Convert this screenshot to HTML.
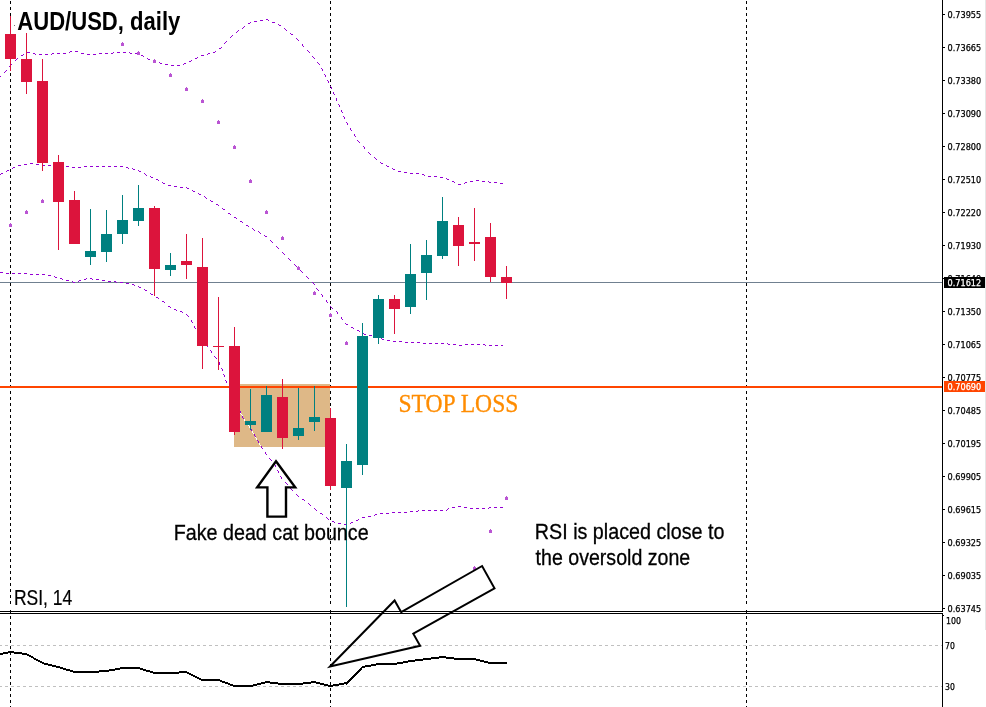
<!DOCTYPE html>
<html lang="en"><head><meta charset="utf-8"><title>AUD/USD, daily</title>
<style>html,body{margin:0;padding:0;background:#fff;overflow:hidden}svg{display:block}.n{font-family:"Liberation Sans",sans-serif}.s{font-family:"Liberation Serif",serif}.ax{font-family:"DejaVu Sans Condensed","DejaVu Sans","Liberation Sans",sans-serif;font-size:9.4px;fill:#000;stroke:#000;stroke-width:.25px}</style></head><body>
<svg width="986" height="707" viewBox="0 0 986 707">
<rect width="986" height="707" fill="#fff"/>
<g shape-rendering="crispEdges">
<rect x="985" y="0" width="1" height="630" fill="#E6E6E6"/>
<line x1="10.5" y1="1" x2="10.5" y2="604" stroke="#000" stroke-width="1" stroke-dasharray="3 3"/>
<line x1="10.5" y1="610" x2="10.5" y2="707" stroke="#000" stroke-width="1" stroke-dasharray="3 3"/>
<line x1="330.5" y1="1" x2="330.5" y2="604" stroke="#000" stroke-width="1" stroke-dasharray="3 3"/>
<line x1="330.5" y1="610" x2="330.5" y2="707" stroke="#000" stroke-width="1" stroke-dasharray="3 3"/>
<line x1="746.5" y1="1" x2="746.5" y2="604" stroke="#000" stroke-width="1" stroke-dasharray="3 3"/>
<line x1="746.5" y1="610" x2="746.5" y2="707" stroke="#000" stroke-width="1" stroke-dasharray="3 3"/>
<rect x="234" y="384" width="96" height="63" fill="#DEB887"/>
<rect x="0" y="282" width="943" height="1" fill="#708090"/>
<rect x="14" y="25" width="1" height="1" fill="#777"/>
<path fill="#fff" d="M240 411h1v1h-1zM240 412h1v1h-1zM240 413h1v1h-1zM241 414h1v1h-1zM242 415h1v1h-1zM242 416h1v1h-1zM242 417h1v1h-1zM243 418h1v1h-1zM244 419h1v1h-1zM244 420h1v1h-1zM245 421h1v1h-1zM246 422h1v1h-1zM247 423h1v1h-1zM247 424h1v1h-1zM248 425h1v1h-1zM249 426h1v1h-1zM249 427h1v1h-1zM250 428h1v1h-1zM251 429h1v1h-1zM251 430h1v1h-1zM252 431h1v1h-1zM252 432h1v1h-1zM253 433h1v1h-1zM254 434h1v1h-1zM254 435h1v1h-1zM255 436h1v1h-1zM255 437h1v1h-1zM256 438h1v1h-1zM256 439h1v1h-1zM257 440h1v1h-1zM258 441h1v1h-1zM258 442h1v1h-1zM259 443h1v1h-1zM259 444h1v1h-1zM260 445h1v1h-1zM261 446h1v1h-1z"/>
<path fill="#9400D3" d="M0 76h1v1h-1zM4 72h1v1h-1zM5 71h1v1h-1zM6 70h1v1h-1zM9 66h1v1h-1zM10 65h1v1h-1zM11 64h1v1h-1zM15 60h1v1h-1zM16 59h1v1h-1zM17 58h1v1h-1zM21 55h1v1h-1zM22 55h1v1h-1zM23 54h1v1h-1zM27 52h1v1h-1zM28 52h1v1h-1zM29 52h1v1h-1zM33 53h1v1h-1zM34 53h1v1h-1zM35 54h1v1h-1zM39 54h1v1h-1zM40 54h1v1h-1zM41 54h1v1h-1zM45 54h1v1h-1zM46 54h1v1h-1zM47 54h1v1h-1zM51 54h1v1h-1zM52 53h1v1h-1zM53 53h1v1h-1zM57 53h1v1h-1zM58 53h1v1h-1zM59 53h1v1h-1zM63 53h1v1h-1zM64 53h1v1h-1zM65 53h1v1h-1zM69 52h1v1h-1zM70 51h1v1h-1zM71 51h1v1h-1zM75 51h1v1h-1zM76 51h1v1h-1zM77 51h1v1h-1zM81 53h1v1h-1zM82 53h1v1h-1zM83 53h1v1h-1zM87 54h1v1h-1zM88 54h1v1h-1zM89 54h1v1h-1zM93 54h1v1h-1zM94 54h1v1h-1zM95 54h1v1h-1zM99 53h1v1h-1zM100 53h1v1h-1zM101 53h1v1h-1zM105 53h1v1h-1zM106 53h1v1h-1zM107 53h1v1h-1zM111 53h1v1h-1zM112 53h1v1h-1zM113 52h1v1h-1zM117 52h1v1h-1zM118 52h1v1h-1zM119 52h1v1h-1zM123 52h1v1h-1zM124 52h1v1h-1zM125 52h1v1h-1zM129 52h1v1h-1zM130 53h1v1h-1zM131 53h1v1h-1zM135 53h1v1h-1zM136 53h1v1h-1zM137 53h1v1h-1zM141 55h1v1h-1zM142 55h1v1h-1zM143 56h1v1h-1zM147 58h1v1h-1zM148 59h1v1h-1zM149 59h1v1h-1zM153 61h1v1h-1zM154 61h1v1h-1zM155 61h1v1h-1zM159 62h1v1h-1zM160 63h1v1h-1zM161 63h1v1h-1zM165 64h1v1h-1zM166 64h1v1h-1zM167 64h1v1h-1zM171 65h1v1h-1zM172 65h1v1h-1zM173 65h1v1h-1zM177 65h1v1h-1zM178 65h1v1h-1zM179 65h1v1h-1zM183 64h1v1h-1zM184 63h1v1h-1zM185 63h1v1h-1zM189 61h1v1h-1zM190 61h1v1h-1zM191 60h1v1h-1zM195 58h1v1h-1zM196 58h1v1h-1zM197 57h1v1h-1zM201 55h1v1h-1zM202 55h1v1h-1zM203 55h1v1h-1zM207 54h1v1h-1zM208 53h1v1h-1zM209 53h1v1h-1zM213 52h1v1h-1zM214 52h1v1h-1zM215 51h1v1h-1zM219 48h1v1h-1zM220 48h1v1h-1zM221 47h1v1h-1zM224 43h1v1h-1zM225 42h1v1h-1zM226 41h1v1h-1zM230 37h1v1h-1zM231 36h1v1h-1zM232 35h1v1h-1zM236 32h1v1h-1zM237 31h1v1h-1zM238 30h1v1h-1zM242 28h1v1h-1zM243 27h1v1h-1zM244 26h1v1h-1zM248 23h1v1h-1zM249 23h1v1h-1zM250 22h1v1h-1zM254 21h1v1h-1zM255 21h1v1h-1zM256 21h1v1h-1zM260 20h1v1h-1zM261 20h1v1h-1zM262 20h1v1h-1zM266 19h1v1h-1zM267 19h1v1h-1zM268 20h1v1h-1zM272 22h1v1h-1zM273 22h1v1h-1zM274 22h1v1h-1zM278 24h1v1h-1zM279 25h1v1h-1zM280 25h1v1h-1zM284 28h1v1h-1zM285 29h1v1h-1zM286 30h1v1h-1zM290 33h1v1h-1zM291 34h1v1h-1zM292 34h1v1h-1zM296 38h1v1h-1zM297 39h1v1h-1zM298 40h1v1h-1zM302 44h1v1h-1zM302 45h1v1h-1zM303 46h1v1h-1zM307 50h1v1h-1zM308 51h1v1h-1zM309 52h1v1h-1zM312 56h1v1h-1zM313 57h1v1h-1zM314 58h1v1h-1zM317 62h1v1h-1zM318 63h1v1h-1zM319 64h1v1h-1zM321 68h1v1h-1zM322 69h1v1h-1zM322 70h1v1h-1zM324 74h1v1h-1zM325 75h1v1h-1zM325 76h1v1h-1zM327 80h1v1h-1zM328 81h1v1h-1zM328 82h1v1h-1zM330 86h1v1h-1zM331 87h1v1h-1zM331 88h1v1h-1zM333 92h1v1h-1zM333 93h1v1h-1zM334 94h1v1h-1zM336 98h1v1h-1zM336 99h1v1h-1zM336 100h1v1h-1zM338 104h1v1h-1zM339 105h1v1h-1zM339 106h1v1h-1zM341 110h1v1h-1zM341 111h1v1h-1zM342 112h1v1h-1zM343 116h1v1h-1zM344 117h1v1h-1zM344 118h1v1h-1zM346 122h1v1h-1zM347 123h1v1h-1zM347 124h1v1h-1zM350 128h1v1h-1zM350 129h1v1h-1zM351 130h1v1h-1zM354 134h1v1h-1zM354 135h1v1h-1zM355 136h1v1h-1zM357 140h1v1h-1zM358 141h1v1h-1zM359 142h1v1h-1zM363 146h1v1h-1zM364 147h1v1h-1zM364 148h1v1h-1zM368 152h1v1h-1zM369 153h1v1h-1zM370 154h1v1h-1zM374 157h1v1h-1zM375 158h1v1h-1zM376 159h1v1h-1zM380 162h1v1h-1zM381 163h1v1h-1zM382 163h1v1h-1zM386 165h1v1h-1zM387 166h1v1h-1zM388 166h1v1h-1zM392 168h1v1h-1zM393 169h1v1h-1zM394 169h1v1h-1zM398 171h1v1h-1zM399 171h1v1h-1zM400 171h1v1h-1zM404 172h1v1h-1zM405 172h1v1h-1zM406 172h1v1h-1zM410 173h1v1h-1zM411 173h1v1h-1zM412 173h1v1h-1zM416 173h1v1h-1zM417 173h1v1h-1zM418 173h1v1h-1zM422 174h1v1h-1zM423 174h1v1h-1zM424 175h1v1h-1zM428 176h1v1h-1zM429 176h1v1h-1zM430 176h1v1h-1zM434 176h1v1h-1zM435 176h1v1h-1zM436 176h1v1h-1zM440 177h1v1h-1zM441 177h1v1h-1zM442 177h1v1h-1zM446 178h1v1h-1zM447 179h1v1h-1zM448 179h1v1h-1zM452 181h1v1h-1zM453 181h1v1h-1zM454 182h1v1h-1zM458 184h1v1h-1zM459 184h1v1h-1zM460 184h1v1h-1zM464 183h1v1h-1zM465 182h1v1h-1zM466 182h1v1h-1zM470 181h1v1h-1zM471 181h1v1h-1zM472 181h1v1h-1zM476 180h1v1h-1zM477 180h1v1h-1zM478 180h1v1h-1zM482 181h1v1h-1zM483 181h1v1h-1zM484 181h1v1h-1zM488 181h1v1h-1zM489 182h1v1h-1zM490 182h1v1h-1zM494 182h1v1h-1zM495 182h1v1h-1zM496 182h1v1h-1zM500 183h1v1h-1zM501 183h1v1h-1zM502 183h1v1h-1z"/>
<path fill="#9400D3" d="M0 174h1v1h-1zM1 173h1v1h-1zM2 173h1v1h-1zM6 171h1v1h-1zM7 170h1v1h-1zM8 170h1v1h-1zM12 168h1v1h-1zM13 167h1v1h-1zM14 167h1v1h-1zM18 165h1v1h-1zM19 165h1v1h-1zM20 165h1v1h-1zM24 164h1v1h-1zM25 164h1v1h-1zM26 164h1v1h-1zM30 163h1v1h-1zM31 163h1v1h-1zM32 163h1v1h-1zM36 164h1v1h-1zM37 164h1v1h-1zM38 164h1v1h-1zM42 164h1v1h-1zM43 165h1v1h-1zM44 165h1v1h-1zM48 165h1v1h-1zM49 165h1v1h-1zM50 165h1v1h-1zM54 165h1v1h-1zM55 165h1v1h-1zM56 166h1v1h-1zM60 166h1v1h-1zM61 166h1v1h-1zM62 166h1v1h-1zM66 166h1v1h-1zM67 166h1v1h-1zM68 166h1v1h-1zM72 167h1v1h-1zM73 167h1v1h-1zM74 167h1v1h-1zM78 167h1v1h-1zM79 167h1v1h-1zM80 167h1v1h-1zM84 166h1v1h-1zM85 166h1v1h-1zM86 166h1v1h-1zM90 166h1v1h-1zM91 166h1v1h-1zM92 166h1v1h-1zM96 166h1v1h-1zM97 166h1v1h-1zM98 166h1v1h-1zM102 166h1v1h-1zM103 166h1v1h-1zM104 166h1v1h-1zM108 166h1v1h-1zM109 166h1v1h-1zM110 166h1v1h-1zM114 166h1v1h-1zM115 166h1v1h-1zM116 166h1v1h-1zM120 166h1v1h-1zM121 166h1v1h-1zM122 166h1v1h-1zM126 167h1v1h-1zM127 167h1v1h-1zM128 168h1v1h-1zM132 168h1v1h-1zM133 169h1v1h-1zM134 169h1v1h-1zM138 170h1v1h-1zM139 171h1v1h-1zM140 171h1v1h-1zM144 173h1v1h-1zM145 174h1v1h-1zM146 175h1v1h-1zM150 176h1v1h-1zM151 177h1v1h-1zM152 177h1v1h-1zM156 179h1v1h-1zM157 179h1v1h-1zM158 180h1v1h-1zM162 182h1v1h-1zM163 183h1v1h-1zM164 183h1v1h-1zM168 185h1v1h-1zM169 185h1v1h-1zM170 185h1v1h-1zM174 186h1v1h-1zM175 186h1v1h-1zM176 186h1v1h-1zM180 187h1v1h-1zM181 187h1v1h-1zM182 187h1v1h-1zM186 187h1v1h-1zM187 188h1v1h-1zM188 188h1v1h-1zM192 190h1v1h-1zM193 191h1v1h-1zM194 191h1v1h-1zM198 193h1v1h-1zM199 194h1v1h-1zM200 194h1v1h-1zM204 196h1v1h-1zM205 197h1v1h-1zM206 198h1v1h-1zM210 200h1v1h-1zM211 201h1v1h-1zM212 201h1v1h-1zM216 204h1v1h-1zM217 204h1v1h-1zM218 205h1v1h-1zM222 208h1v1h-1zM223 209h1v1h-1zM224 209h1v1h-1zM228 213h1v1h-1zM229 213h1v1h-1zM230 214h1v1h-1zM234 217h1v1h-1zM235 217h1v1h-1zM236 218h1v1h-1zM240 221h1v1h-1zM241 221h1v1h-1zM242 222h1v1h-1zM246 225h1v1h-1zM247 225h1v1h-1zM248 226h1v1h-1zM252 228h1v1h-1zM253 229h1v1h-1zM254 230h1v1h-1zM258 231h1v1h-1zM259 232h1v1h-1zM260 233h1v1h-1zM264 235h1v1h-1zM265 236h1v1h-1zM266 236h1v1h-1zM270 240h1v1h-1zM271 241h1v1h-1zM272 242h1v1h-1zM276 246h1v1h-1zM277 247h1v1h-1zM278 248h1v1h-1zM282 252h1v1h-1zM283 253h1v1h-1zM284 254h1v1h-1zM288 258h1v1h-1zM289 259h1v1h-1zM290 260h1v1h-1zM294 264h1v1h-1zM295 265h1v1h-1zM296 266h1v1h-1zM300 270h1v1h-1zM301 271h1v1h-1zM302 272h1v1h-1zM306 276h1v1h-1zM307 277h1v1h-1zM308 278h1v1h-1zM312 282h1v1h-1zM313 283h1v1h-1zM314 284h1v1h-1zM316 288h1v1h-1zM317 289h1v1h-1zM318 290h1v1h-1zM321 294h1v1h-1zM322 295h1v1h-1zM322 296h1v1h-1zM326 300h1v1h-1zM326 301h1v1h-1zM327 302h1v1h-1zM330 306h1v1h-1zM331 307h1v1h-1zM332 308h1v1h-1zM336 311h1v1h-1zM337 312h1v1h-1zM337 313h1v1h-1zM341 317h1v1h-1zM341 318h1v1h-1zM342 319h1v1h-1zM345 323h1v1h-1zM346 324h1v1h-1zM347 324h1v1h-1zM351 327h1v1h-1zM352 327h1v1h-1zM353 328h1v1h-1zM357 330h1v1h-1zM358 330h1v1h-1zM359 331h1v1h-1zM363 333h1v1h-1zM364 334h1v1h-1zM365 334h1v1h-1zM369 335h1v1h-1zM370 335h1v1h-1zM371 335h1v1h-1zM375 337h1v1h-1zM376 337h1v1h-1zM377 337h1v1h-1zM381 338h1v1h-1zM382 339h1v1h-1zM383 339h1v1h-1zM387 340h1v1h-1zM388 340h1v1h-1zM389 340h1v1h-1zM393 341h1v1h-1zM394 341h1v1h-1zM395 341h1v1h-1zM399 341h1v1h-1zM400 341h1v1h-1zM401 341h1v1h-1zM405 342h1v1h-1zM406 342h1v1h-1zM407 342h1v1h-1zM411 342h1v1h-1zM412 342h1v1h-1zM413 342h1v1h-1zM417 342h1v1h-1zM418 342h1v1h-1zM419 342h1v1h-1zM423 343h1v1h-1zM424 343h1v1h-1zM425 343h1v1h-1zM429 343h1v1h-1zM430 343h1v1h-1zM431 343h1v1h-1zM435 343h1v1h-1zM436 343h1v1h-1zM437 343h1v1h-1zM441 343h1v1h-1zM442 343h1v1h-1zM443 343h1v1h-1zM447 343h1v1h-1zM448 344h1v1h-1zM449 344h1v1h-1zM453 344h1v1h-1zM454 344h1v1h-1zM455 344h1v1h-1zM459 345h1v1h-1zM460 345h1v1h-1zM461 345h1v1h-1zM465 344h1v1h-1zM466 344h1v1h-1zM467 344h1v1h-1zM471 344h1v1h-1zM472 344h1v1h-1zM473 344h1v1h-1zM477 344h1v1h-1zM478 344h1v1h-1zM479 344h1v1h-1zM483 344h1v1h-1zM484 344h1v1h-1zM485 345h1v1h-1zM489 345h1v1h-1zM490 345h1v1h-1zM491 345h1v1h-1zM495 345h1v1h-1zM496 345h1v1h-1zM497 345h1v1h-1zM501 345h1v1h-1zM502 345h1v1h-1z"/>
<path fill="#9400D3" d="M0 272h1v1h-1zM1 272h1v1h-1zM2 272h1v1h-1zM6 273h1v1h-1zM7 273h1v1h-1zM8 273h1v1h-1zM12 273h1v1h-1zM13 273h1v1h-1zM14 273h1v1h-1zM18 273h1v1h-1zM19 273h1v1h-1zM20 273h1v1h-1zM24 273h1v1h-1zM25 273h1v1h-1zM26 273h1v1h-1zM30 274h1v1h-1zM31 274h1v1h-1zM32 274h1v1h-1zM36 274h1v1h-1zM37 274h1v1h-1zM38 274h1v1h-1zM42 274h1v1h-1zM43 274h1v1h-1zM44 274h1v1h-1zM48 275h1v1h-1zM49 275h1v1h-1zM50 275h1v1h-1zM54 276h1v1h-1zM55 277h1v1h-1zM56 277h1v1h-1zM60 278h1v1h-1zM61 278h1v1h-1zM62 279h1v1h-1zM66 280h1v1h-1zM67 280h1v1h-1zM68 280h1v1h-1zM72 281h1v1h-1zM73 282h1v1h-1zM74 282h1v1h-1zM78 281h1v1h-1zM79 280h1v1h-1zM80 280h1v1h-1zM84 279h1v1h-1zM85 279h1v1h-1zM86 278h1v1h-1zM90 278h1v1h-1zM91 278h1v1h-1zM92 279h1v1h-1zM96 279h1v1h-1zM97 279h1v1h-1zM98 279h1v1h-1zM102 280h1v1h-1zM103 280h1v1h-1zM104 280h1v1h-1zM108 281h1v1h-1zM109 281h1v1h-1zM110 281h1v1h-1zM114 281h1v1h-1zM115 281h1v1h-1zM116 282h1v1h-1zM120 282h1v1h-1zM121 282h1v1h-1zM122 282h1v1h-1zM126 283h1v1h-1zM127 283h1v1h-1zM128 283h1v1h-1zM132 284h1v1h-1zM133 284h1v1h-1zM134 285h1v1h-1zM138 286h1v1h-1zM139 287h1v1h-1zM140 287h1v1h-1zM144 289h1v1h-1zM145 290h1v1h-1zM146 290h1v1h-1zM150 293h1v1h-1zM151 294h1v1h-1zM152 294h1v1h-1zM156 297h1v1h-1zM157 297h1v1h-1zM158 298h1v1h-1zM162 301h1v1h-1zM163 301h1v1h-1zM164 302h1v1h-1zM168 306h1v1h-1zM169 306h1v1h-1zM170 307h1v1h-1zM174 309h1v1h-1zM175 309h1v1h-1zM176 310h1v1h-1zM180 311h1v1h-1zM181 311h1v1h-1zM182 312h1v1h-1zM186 314h1v1h-1zM187 315h1v1h-1zM188 316h1v1h-1zM191 320h1v1h-1zM191 321h1v1h-1zM192 322h1v1h-1zM194 326h1v1h-1zM194 327h1v1h-1zM195 328h1v1h-1zM197 332h1v1h-1zM198 333h1v1h-1zM199 334h1v1h-1zM202 338h1v1h-1zM202 339h1v1h-1zM203 340h1v1h-1zM206 344h1v1h-1zM206 345h1v1h-1zM207 346h1v1h-1zM210 350h1v1h-1zM211 351h1v1h-1zM211 352h1v1h-1zM214 356h1v1h-1zM215 357h1v1h-1zM216 358h1v1h-1zM219 362h1v1h-1zM219 363h1v1h-1zM219 364h1v1h-1zM221 368h1v1h-1zM222 369h1v1h-1zM222 370h1v1h-1zM223 374h1v1h-1zM224 375h1v1h-1zM224 376h1v1h-1zM225 380h1v1h-1zM226 381h1v1h-1zM226 382h1v1h-1zM228 386h1v1h-1zM228 387h1v1h-1zM229 388h1v1h-1zM231 392h1v1h-1zM231 393h1v1h-1zM232 394h1v1h-1zM233 398h1v1h-1zM234 399h1v1h-1zM234 400h1v1h-1zM236 404h1v1h-1zM237 405h1v1h-1zM237 406h1v1h-1zM239 410h1v1h-1zM240 411h1v1h-1zM240 412h1v1h-1zM242 416h1v1h-1zM242 417h1v1h-1zM243 418h1v1h-1zM246 422h1v1h-1zM247 423h1v1h-1zM247 424h1v1h-1zM250 428h1v1h-1zM251 429h1v1h-1zM251 430h1v1h-1zM254 434h1v1h-1zM254 435h1v1h-1zM255 436h1v1h-1zM257 440h1v1h-1zM258 441h1v1h-1zM258 442h1v1h-1zM261 446h1v1h-1zM261 447h1v1h-1zM262 448h1v1h-1zM265 452h1v1h-1zM265 453h1v1h-1zM266 454h1v1h-1zM269 458h1v1h-1zM270 459h1v1h-1zM271 460h1v1h-1zM274 464h1v1h-1zM275 465h1v1h-1zM275 466h1v1h-1zM277 470h1v1h-1zM278 471h1v1h-1zM278 472h1v1h-1zM280 476h1v1h-1zM281 477h1v1h-1zM281 478h1v1h-1zM285 482h1v1h-1zM286 483h1v1h-1zM287 484h1v1h-1zM290 488h1v1h-1zM291 489h1v1h-1zM292 490h1v1h-1zM296 494h1v1h-1zM297 495h1v1h-1zM298 496h1v1h-1zM302 499h1v1h-1zM303 499h1v1h-1zM304 500h1v1h-1zM308 503h1v1h-1zM309 504h1v1h-1zM310 505h1v1h-1zM314 508h1v1h-1zM315 509h1v1h-1zM316 510h1v1h-1zM320 513h1v1h-1zM321 513h1v1h-1zM322 514h1v1h-1zM326 517h1v1h-1zM327 518h1v1h-1zM328 519h1v1h-1zM332 521h1v1h-1zM333 521h1v1h-1zM334 522h1v1h-1zM338 523h1v1h-1zM339 523h1v1h-1zM340 523h1v1h-1zM344 524h1v1h-1zM345 524h1v1h-1zM346 524h1v1h-1zM350 523h1v1h-1zM351 522h1v1h-1zM352 522h1v1h-1zM356 520h1v1h-1zM357 520h1v1h-1zM358 519h1v1h-1zM362 517h1v1h-1zM363 517h1v1h-1zM364 517h1v1h-1zM368 516h1v1h-1zM369 516h1v1h-1zM370 516h1v1h-1zM374 515h1v1h-1zM375 514h1v1h-1zM376 514h1v1h-1zM380 513h1v1h-1zM381 513h1v1h-1zM382 513h1v1h-1zM386 513h1v1h-1zM387 513h1v1h-1zM388 513h1v1h-1zM392 512h1v1h-1zM393 512h1v1h-1zM394 512h1v1h-1zM398 512h1v1h-1zM399 512h1v1h-1zM400 512h1v1h-1zM404 512h1v1h-1zM405 512h1v1h-1zM406 512h1v1h-1zM410 511h1v1h-1zM411 511h1v1h-1zM412 511h1v1h-1zM416 511h1v1h-1zM417 511h1v1h-1zM418 510h1v1h-1zM422 510h1v1h-1zM423 510h1v1h-1zM424 510h1v1h-1zM428 510h1v1h-1zM429 510h1v1h-1zM430 510h1v1h-1zM434 510h1v1h-1zM435 510h1v1h-1zM436 510h1v1h-1zM440 510h1v1h-1zM441 510h1v1h-1zM442 510h1v1h-1zM446 510h1v1h-1zM447 509h1v1h-1zM448 508h1v1h-1zM452 507h1v1h-1zM453 507h1v1h-1zM454 507h1v1h-1zM458 506h1v1h-1zM459 506h1v1h-1zM460 506h1v1h-1zM464 507h1v1h-1zM465 507h1v1h-1zM466 507h1v1h-1zM470 508h1v1h-1zM471 508h1v1h-1zM472 508h1v1h-1zM476 508h1v1h-1zM477 508h1v1h-1zM478 508h1v1h-1zM482 508h1v1h-1zM483 508h1v1h-1zM484 508h1v1h-1zM488 508h1v1h-1zM489 507h1v1h-1zM490 507h1v1h-1zM494 507h1v1h-1zM495 507h1v1h-1zM496 507h1v1h-1zM500 507h1v1h-1zM501 507h1v1h-1zM502 507h1v1h-1z"/>
<path d="M9 224h3v3h-3zM10 223h1v1h-1z" fill="#BA55D3"/>
<path d="M25 211h3v3h-3zM26 210h1v1h-1z" fill="#BA55D3"/>
<path d="M41 200h3v3h-3zM42 199h1v1h-1z" fill="#BA55D3"/>
<path d="M121 43h3v3h-3zM122 42h1v1h-1z" fill="#BA55D3"/>
<path d="M137 52h3v3h-3zM138 51h1v1h-1z" fill="#BA55D3"/>
<path d="M153 60h3v3h-3zM154 59h1v1h-1z" fill="#BA55D3"/>
<path d="M169 74h3v3h-3zM170 73h1v1h-1z" fill="#BA55D3"/>
<path d="M185 88h3v3h-3zM186 87h1v1h-1z" fill="#BA55D3"/>
<path d="M201 100h3v3h-3zM202 99h1v1h-1z" fill="#BA55D3"/>
<path d="M217 121h3v3h-3zM218 120h1v1h-1z" fill="#BA55D3"/>
<path d="M233 146h3v3h-3zM234 145h1v1h-1z" fill="#BA55D3"/>
<path d="M249 180h3v3h-3zM250 179h1v1h-1z" fill="#BA55D3"/>
<path d="M265 211h3v3h-3zM266 210h1v1h-1z" fill="#BA55D3"/>
<path d="M281 237h3v3h-3zM282 236h1v1h-1z" fill="#BA55D3"/>
<path d="M297 267h3v3h-3zM298 266h1v1h-1z" fill="#BA55D3"/>
<path d="M313 292h3v3h-3zM314 291h1v1h-1z" fill="#BA55D3"/>
<path d="M329 314h3v3h-3zM330 313h1v1h-1z" fill="#BA55D3"/>
<path d="M345 342h3v3h-3zM346 341h1v1h-1z" fill="#BA55D3"/>
<path d="M473 567h3v3h-3zM474 566h1v1h-1z" fill="#BA55D3"/>
<path d="M489 530h3v3h-3zM490 529h1v1h-1z" fill="#BA55D3"/>
<path d="M505 497h3v3h-3zM506 496h1v1h-1z" fill="#BA55D3"/>
<rect x="0" y="386" width="943" height="2" fill="#FF4500"/>
<rect x="10" y="16" width="1" height="55" fill="#DC143C"/>
<rect x="5" y="34" width="11" height="25" fill="#DC143C"/>
<rect x="26" y="33" width="1" height="61" fill="#DC143C"/>
<rect x="21" y="59" width="11" height="23" fill="#DC143C"/>
<rect x="42" y="59" width="1" height="112" fill="#DC143C"/>
<rect x="37" y="81" width="11" height="82" fill="#DC143C"/>
<rect x="58" y="155" width="1" height="95" fill="#DC143C"/>
<rect x="53" y="162" width="11" height="40" fill="#DC143C"/>
<rect x="74" y="191" width="1" height="53" fill="#DC143C"/>
<rect x="69" y="200" width="11" height="44" fill="#DC143C"/>
<rect x="90" y="209" width="1" height="56" fill="#008080"/>
<rect x="85" y="251" width="11" height="6" fill="#008080"/>
<rect x="106" y="210" width="1" height="52" fill="#008080"/>
<rect x="101" y="234" width="11" height="18" fill="#008080"/>
<rect x="122" y="195" width="1" height="49" fill="#008080"/>
<rect x="117" y="220" width="11" height="14" fill="#008080"/>
<rect x="138" y="185" width="1" height="41" fill="#008080"/>
<rect x="133" y="208" width="11" height="13" fill="#008080"/>
<rect x="154" y="206" width="1" height="90" fill="#DC143C"/>
<rect x="149" y="208" width="11" height="61" fill="#DC143C"/>
<rect x="170" y="253" width="1" height="23" fill="#008080"/>
<rect x="165" y="265" width="11" height="5" fill="#008080"/>
<rect x="186" y="234" width="1" height="45" fill="#DC143C"/>
<rect x="181" y="261" width="11" height="4" fill="#DC143C"/>
<rect x="202" y="238" width="1" height="131" fill="#DC143C"/>
<rect x="197" y="267" width="11" height="79" fill="#DC143C"/>
<rect x="218" y="297" width="1" height="73" fill="#DC143C"/>
<rect x="213" y="346" width="11" height="1" fill="#DC143C"/>
<rect x="234" y="327" width="1" height="108" fill="#DC143C"/>
<rect x="229" y="346" width="11" height="86" fill="#DC143C"/>
<rect x="250" y="389" width="1" height="41" fill="#008080"/>
<rect x="245" y="421" width="11" height="4" fill="#008080"/>
<rect x="266" y="386" width="1" height="46" fill="#008080"/>
<rect x="261" y="395" width="11" height="37" fill="#008080"/>
<rect x="282" y="379" width="1" height="70" fill="#DC143C"/>
<rect x="277" y="397" width="11" height="41" fill="#DC143C"/>
<rect x="298" y="388" width="1" height="52" fill="#008080"/>
<rect x="293" y="428" width="11" height="8" fill="#008080"/>
<rect x="314" y="386" width="1" height="45" fill="#008080"/>
<rect x="309" y="417" width="11" height="5" fill="#008080"/>
<rect x="330" y="408" width="1" height="82" fill="#DC143C"/>
<rect x="325" y="418" width="11" height="68" fill="#DC143C"/>
<rect x="346" y="444" width="1" height="163" fill="#008080"/>
<rect x="341" y="461" width="11" height="27" fill="#008080"/>
<rect x="362" y="323" width="1" height="152" fill="#008080"/>
<rect x="357" y="336" width="11" height="129" fill="#008080"/>
<rect x="378" y="295" width="1" height="49" fill="#008080"/>
<rect x="373" y="299" width="11" height="39" fill="#008080"/>
<rect x="394" y="295" width="1" height="39" fill="#DC143C"/>
<rect x="389" y="299" width="11" height="10" fill="#DC143C"/>
<rect x="410" y="244" width="1" height="70" fill="#008080"/>
<rect x="405" y="274" width="11" height="33" fill="#008080"/>
<rect x="426" y="240" width="1" height="60" fill="#008080"/>
<rect x="421" y="255" width="11" height="18" fill="#008080"/>
<rect x="442" y="197" width="1" height="62" fill="#008080"/>
<rect x="437" y="221" width="11" height="35" fill="#008080"/>
<rect x="458" y="217" width="1" height="49" fill="#DC143C"/>
<rect x="453" y="225" width="11" height="21" fill="#DC143C"/>
<rect x="474" y="208" width="1" height="53" fill="#DC143C"/>
<rect x="469" y="242" width="11" height="2" fill="#DC143C"/>
<rect x="490" y="223" width="1" height="59" fill="#DC143C"/>
<rect x="485" y="237" width="11" height="40" fill="#DC143C"/>
<rect x="506" y="266" width="1" height="33" fill="#DC143C"/>
<rect x="501" y="277" width="11" height="6" fill="#DC143C"/>
<line x1="-1" y1="645.5" x2="942" y2="645.5" stroke="#C0C0C0" stroke-width="1" stroke-dasharray="3 3"/>
<line x1="-1" y1="686.5" x2="942" y2="686.5" stroke="#C0C0C0" stroke-width="1" stroke-dasharray="3 3"/>
<rect x="0" y="611" width="943" height="1" fill="#000"/>
<rect x="0" y="613" width="943" height="1" fill="#000"/>
<rect x="942" y="0" width="1" height="612" fill="#000"/>
<rect x="942" y="613" width="1" height="94" fill="#000"/>
<rect x="943" y="615" width="1" height="1" fill="#000"/>
<rect x="943" y="14" width="2" height="1" fill="#000"/>
<rect x="943" y="47" width="2" height="1" fill="#000"/>
<rect x="943" y="80" width="2" height="1" fill="#000"/>
<rect x="943" y="113" width="2" height="1" fill="#000"/>
<rect x="943" y="146" width="2" height="1" fill="#000"/>
<rect x="943" y="179" width="2" height="1" fill="#000"/>
<rect x="943" y="212" width="2" height="1" fill="#000"/>
<rect x="943" y="245" width="2" height="1" fill="#000"/>
<rect x="943" y="278" width="2" height="1" fill="#000"/>
<rect x="943" y="311" width="2" height="1" fill="#000"/>
<rect x="943" y="344" width="2" height="1" fill="#000"/>
<rect x="943" y="377" width="2" height="1" fill="#000"/>
<rect x="943" y="410" width="2" height="1" fill="#000"/>
<rect x="943" y="443" width="2" height="1" fill="#000"/>
<rect x="943" y="476" width="2" height="1" fill="#000"/>
<rect x="943" y="509" width="2" height="1" fill="#000"/>
<rect x="943" y="542" width="2" height="1" fill="#000"/>
<rect x="943" y="575" width="2" height="1" fill="#000"/>
<rect x="943" y="608" width="2" height="1" fill="#000"/>
<path fill="#000" d="M0 653h3v2h-3zM3 652h5v2h-5zM8 651h6v2h-6zM14 652h8v2h-8zM22 653h5v2h-5zM27 654h2v2h-2zM29 655h2v2h-2zM31 656h2v2h-2zM33 657h1v2h-1zM34 658h2v2h-2zM36 659h2v2h-2zM38 660h2v2h-2zM40 661h2v2h-2zM42 662h2v2h-2zM44 663h4v2h-4zM48 664h4v2h-4zM52 665h4v2h-4zM56 666h4v2h-4zM60 667h3v2h-3zM63 668h3v2h-3zM66 669h4v2h-4zM70 670h3v2h-3zM73 671h26v2h-26zM99 670h10v2h-10zM109 669h6v2h-6zM115 668h5v2h-5zM120 667h20v2h-20zM140 668h3v2h-3zM143 669h3v2h-3zM146 670h4v2h-4zM150 671h3v2h-3zM153 672h26v2h-26zM179 671h8v2h-8zM187 672h2v2h-2zM189 673h2v2h-2zM191 674h2v2h-2zM193 675h2v2h-2zM195 676h2v2h-2zM197 677h2v2h-2zM199 678h2v2h-2zM201 679h19v2h-19zM220 680h2v2h-2zM222 681h3v2h-3zM225 682h3v2h-3zM228 683h2v2h-2zM230 684h3v2h-3zM233 685h20v2h-20zM253 684h4v2h-4zM257 683h4v2h-4zM261 682h4v2h-4zM265 681h5v2h-5zM270 682h8v2h-8zM278 683h25v2h-25zM303 682h8v2h-8zM311 681h5v2h-5zM316 682h4v2h-4zM320 683h4v2h-4zM324 684h4v2h-4zM328 685h5v2h-5zM333 684h6v2h-6zM339 683h5v2h-5zM344 682h2v2h-2zM346 682h1v3h-1zM347 681h1v3h-1zM348 680h1v3h-1zM349 679h1v3h-1zM350 678h1v3h-1zM351 677h1v3h-1zM352 676h1v3h-1zM353 675h1v3h-1zM354 674h1v3h-1zM355 673h1v3h-1zM356 672h1v3h-1zM357 671h1v3h-1zM358 670h1v3h-1zM359 669h1v3h-1zM360 668h1v3h-1zM361 667h1v3h-1zM362 666h3v2h-3zM365 665h6v2h-6zM371 664h5v2h-5zM376 663h21v2h-21zM397 662h6v2h-6zM403 661h5v2h-5zM408 660h7v2h-7zM415 659h8v2h-8zM423 658h8v2h-8zM431 657h8v2h-8zM439 656h7v2h-7zM446 657h8v2h-8zM454 658h22v2h-22zM476 659h4v2h-4zM480 660h4v2h-4zM484 661h4v2h-4zM488 662h19v2h-19z"/>
</g>
<text class="ax" x="947.6" y="18" textLength="33.6" lengthAdjust="spacingAndGlyphs">0.73955</text>
<text class="ax" x="947.6" y="51" textLength="33.6" lengthAdjust="spacingAndGlyphs">0.73665</text>
<text class="ax" x="947.6" y="84" textLength="33.6" lengthAdjust="spacingAndGlyphs">0.73380</text>
<text class="ax" x="947.6" y="117" textLength="33.6" lengthAdjust="spacingAndGlyphs">0.73090</text>
<text class="ax" x="947.6" y="150" textLength="33.6" lengthAdjust="spacingAndGlyphs">0.72800</text>
<text class="ax" x="947.6" y="183" textLength="33.6" lengthAdjust="spacingAndGlyphs">0.72510</text>
<text class="ax" x="947.6" y="216" textLength="33.6" lengthAdjust="spacingAndGlyphs">0.72220</text>
<text class="ax" x="947.6" y="249" textLength="33.6" lengthAdjust="spacingAndGlyphs">0.71930</text>
<text class="ax" x="947.6" y="282" textLength="33.6" lengthAdjust="spacingAndGlyphs">0.71640</text>
<text class="ax" x="947.6" y="315" textLength="33.6" lengthAdjust="spacingAndGlyphs">0.71350</text>
<text class="ax" x="947.6" y="348" textLength="33.6" lengthAdjust="spacingAndGlyphs">0.71065</text>
<text class="ax" x="947.6" y="381" textLength="33.6" lengthAdjust="spacingAndGlyphs">0.70775</text>
<text class="ax" x="947.6" y="414" textLength="33.6" lengthAdjust="spacingAndGlyphs">0.70485</text>
<text class="ax" x="947.6" y="447" textLength="33.6" lengthAdjust="spacingAndGlyphs">0.70195</text>
<text class="ax" x="947.6" y="480" textLength="33.6" lengthAdjust="spacingAndGlyphs">0.69905</text>
<text class="ax" x="947.6" y="513" textLength="33.6" lengthAdjust="spacingAndGlyphs">0.69615</text>
<text class="ax" x="947.6" y="546" textLength="33.6" lengthAdjust="spacingAndGlyphs">0.69325</text>
<text class="ax" x="947.6" y="579" textLength="33.6" lengthAdjust="spacingAndGlyphs">0.69035</text>
<text class="ax" x="947.6" y="612" textLength="33.6" lengthAdjust="spacingAndGlyphs">0.63745</text>
<text class="ax" x="946" y="624.2" textLength="15" lengthAdjust="spacingAndGlyphs">100</text>
<text class="ax" x="945" y="649" textLength="9.8" lengthAdjust="spacingAndGlyphs">70</text>
<text class="ax" x="945" y="690" textLength="9.8" lengthAdjust="spacingAndGlyphs">30</text>
<rect x="944" y="277" width="41" height="11" fill="#000" shape-rendering="crispEdges"/>
<text class="ax" x="947.6" y="286" textLength="33.6" lengthAdjust="spacingAndGlyphs" style="fill:#fff;stroke:#fff">0.71612</text>
<rect x="944" y="381" width="41" height="11" fill="#FF4500" shape-rendering="crispEdges"/>
<text class="ax" x="947.6" y="390" textLength="33.6" lengthAdjust="spacingAndGlyphs" style="fill:#fff;stroke:#fff">0.70690</text>
<path d="M276 461.2 L295.2 487.4 L286 487.4 L286 516.6 L267.4 516.6 L267.4 487.4 L257.2 487.4 Z" fill="none" stroke="#000" stroke-width="2.4" stroke-linejoin="miter"/>
<path d="M330 666.5 L394.6 600.5 L401.2 612.2 L482.1 566 L494.5 588.3 L413.3 633.7 L420.1 645.8 Z" fill="none" stroke="#000" stroke-width="2" stroke-linejoin="miter"/>
<text class="n" x="17.3" y="29.6" font-size="25.5" font-weight="bold" textLength="163" lengthAdjust="spacingAndGlyphs">AUD/USD, daily</text>
<text class="n" x="173.8" y="539.5" font-size="22" stroke="#000" stroke-width=".3" textLength="194.8" lengthAdjust="spacingAndGlyphs">Fake dead cat bounce</text>
<text class="n" x="534.8" y="539" font-size="21.5" stroke="#000" stroke-width=".3" textLength="189.6" lengthAdjust="spacingAndGlyphs">RSI is placed close to</text>
<text class="n" x="535.6" y="565.3" font-size="21.5" stroke="#000" stroke-width=".3" textLength="154.6" lengthAdjust="spacingAndGlyphs">the oversold zone</text>
<text class="s" x="398.4" y="411.7" font-size="24.7" fill="#FF8C00" stroke="#FF8C00" stroke-width="0.3" textLength="120" lengthAdjust="spacingAndGlyphs">STOP LOSS</text>
<text class="n" x="13.9" y="604.6" font-size="21.4" stroke="#000" stroke-width=".2" textLength="58.3" lengthAdjust="spacingAndGlyphs">RSI, 14</text>
</svg></body></html>
